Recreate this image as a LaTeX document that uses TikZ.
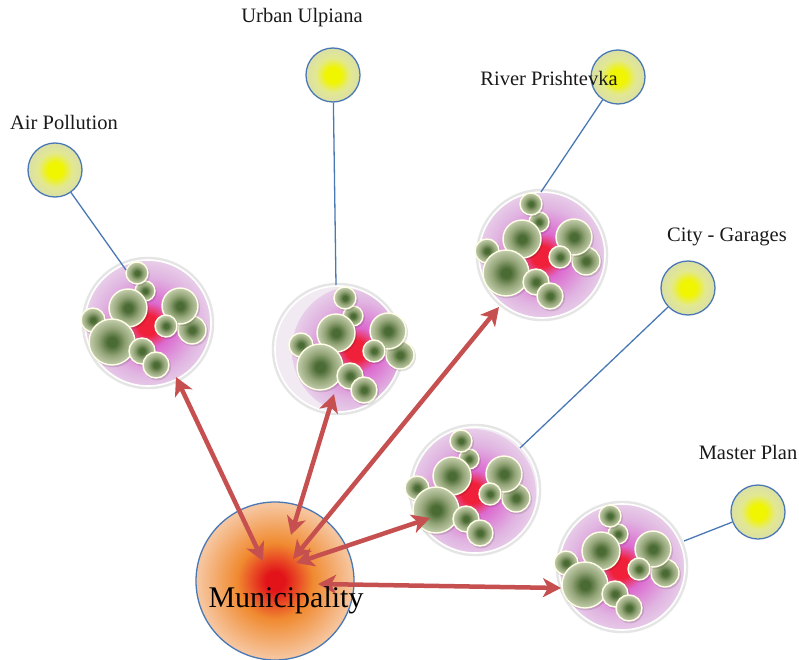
\documentclass[tikz,border=0pt]{standalone}
\usepackage{fontspec}
\setmainfont{Liberation Serif}
\newfontfamily\labfont{Liberation Serif}
\usetikzlibrary{arrows.meta}
\definecolor{tblue}{HTML}{4A78B5}
\definecolor{ybright}{HTML}{F0F500}
\definecolor{ymid}{HTML}{E2E890}
\definecolor{ybeige}{HTML}{D6DBB3}
\definecolor{gdark}{HTML}{4B6B34}
\definecolor{gmid}{HTML}{94A578}
\definecolor{gpale}{HTML}{D7DEC3}
\definecolor{cred}{HTML}{F0203A}
\definecolor{cmag}{HTML}{DC6AD0}
\definecolor{cpurp}{HTML}{E0B4E1}
\definecolor{clav}{HTML}{F1EAF2}
\definecolor{mred}{HTML}{E2141A}
\definecolor{morange}{HTML}{F08A30}
\definecolor{mpeach}{HTML}{F6C49C}
\definecolor{mpale}{HTML}{FAE0CD}
\definecolor{arrred}{HTML}{C5504F}
\pgfdeclareradialshading{yball}{\pgfpoint{0bp}{0bp}}{color(0bp)=(ybright); color(7bp)=(ybright); color(16bp)=(ymid); color(30bp)=(ybeige); color(50bp)=(ybeige)}
\pgfdeclareradialshading{gball}{\pgfpoint{0bp}{0bp}}{color(0bp)=(gdark); color(5bp)=(gdark); color(15bp)=(gmid); color(29bp)=(gpale); color(50bp)=(gpale!60!white)}
\pgfdeclareradialshading{cglow}{\pgfpoint{0bp}{0bp}}{color(0bp)=(cred); color(4bp)=(cred); color(9bp)=(cmag); color(19bp)=(cpurp); color(32bp)=(clav); color(50bp)=(clav)}
\pgfdeclareradialshading{mball}{\pgfpoint{0bp}{0bp}}{color(0bp)=(mred); color(3bp)=(mred); color(12bp)=(morange); color(24bp)=(mpeach); color(36bp)=(mpale); color(50bp)=(mpale)}
\newcommand\gb[3]{%
  \fill[black,opacity=0.12] (#1+1.2,#2+1.5) circle [radius=#3+0.8];
  \shade[shading=gball] (#1,#2) circle [radius=#3];
  \draw[white!90!yellow,line width=1.4bp] (#1,#2) circle [radius=#3];}
\newcommand\mycluster[5]{%
  \node[clout] (#1) at (#4,#5) {};
  \begin{scope}
    \clip (#4,#5) circle [radius=63];
    \shade[shading=cglow] (#2+6,#3) circle [radius=64];
  \end{scope}
  \draw[white,line width=1.6bp] (#4,#5) circle [radius=63];
  \begin{scope}[shift={(#2,#3)}]
    \gb{3}{-34}{10}
    \gb{-5}{-52}{11}
    \gb{-14}{-17}{19}
    \gb{-49}{-5}{12}
    \gb{-30}{17}{23}
    \gb{0}{26}{13}
    \gb{14}{40}{13}
    \gb{50}{5}{14}
    \gb{38}{-19}{18}
    \gb{24}{1}{11}
  \end{scope}}
\begin{document}
\begin{tikzpicture}[x=1bp,y=-1bp,
  clout/.style={circle, minimum size=130bp, inner sep=0pt, draw=black!10, line width=2.5bp, fill=clav},
  topic/.style={circle, minimum size=54bp, inner sep=0pt, draw=tblue, line width=1.3bp, shade, shading=yball},
  mun/.style={circle, minimum size=158bp, inner sep=0pt, draw=tblue, line width=1.3bp, shade, shading=mball},
  conn/.style={draw=tblue, line width=1.3bp},
  arr/.style={draw=arrred, line width=4.5bp, {Stealth[length=18bp,width=19bp,inset=5bp]}-{Stealth[length=18bp,width=19bp,inset=5bp]}},
  lab/.style={font=\labfont\fontsize{20.5bp}{24bp}\selectfont, inner sep=0pt, text=black!90}]
\useasboundingbox (0,0) rectangle (799,660);
\fill[white] (0,0) rectangle (799,660);
% clusters
\mycluster{c1}{142}{325}{148}{323}
\mycluster{c2}{350}{350}{338}{349}
\mycluster{c3}{536}{256}{542}{255}
\mycluster{c4}{466}{493}{475}{490}
\mycluster{c5}{615}{568}{622}{567}
% municipality
\node[mun] (mun) at (275,581) {};
% topic circles
\node[topic] (air) at (55,170) {};
\node[topic] (urban) at (333,75) {};
\node[topic] (river) at (618,77) {};
\node[topic] (city) at (688,288) {};
\node[topic] (master) at (758,512) {};
% connector ends
\coordinate (e1) at (126,270);
\coordinate (e2) at (336,285);
\coordinate (e3) at (541,192);
\coordinate (e4) at (520,448);
\coordinate (e5) at (684,541);
\draw[conn] (air) -- (e1);
\draw[conn] (urban) -- (e2);
\draw[conn] (river) -- (e3);
\draw[conn] (city) -- (e4);
\draw[conn] (master) -- (e5);
% arrows
\coordinate (k1) at (176,377); \coordinate (m1) at (263,561);
\coordinate (k2) at (334,394); \coordinate (m2) at (291,535);
\coordinate (k3) at (499,307); \coordinate (m3) at (293,559);
\coordinate (k4) at (430,518); \coordinate (m4) at (296,563);
\coordinate (k5) at (561,588); \coordinate (m5) at (318,584);
\draw[arr] (k1) -- (m1);
\draw[arr] (k2) -- (m2);
\draw[arr] (k3) -- (m3);
\draw[arr] (k4) -- (m4);
\draw[arr] (k5) -- (m5);
% labels
\node[lab] (airlab) at (64,122) {Air Pollution};
\node[lab] (urbanlab) at (302,18) {Urban Ulpiana};
\node[lab] (riverlab) at (549,78) {River Prishtevka};
\node[lab] (citylab) at (727,237) {City - Garages};
\node[lab] (masterlab) at (748,452) {Master Plan};
\node[font=\labfont\fontsize{30bp}{34bp}\selectfont, inner sep=0pt] (munlab) at (286,600) {Municipality};
\end{tikzpicture}
\end{document}
